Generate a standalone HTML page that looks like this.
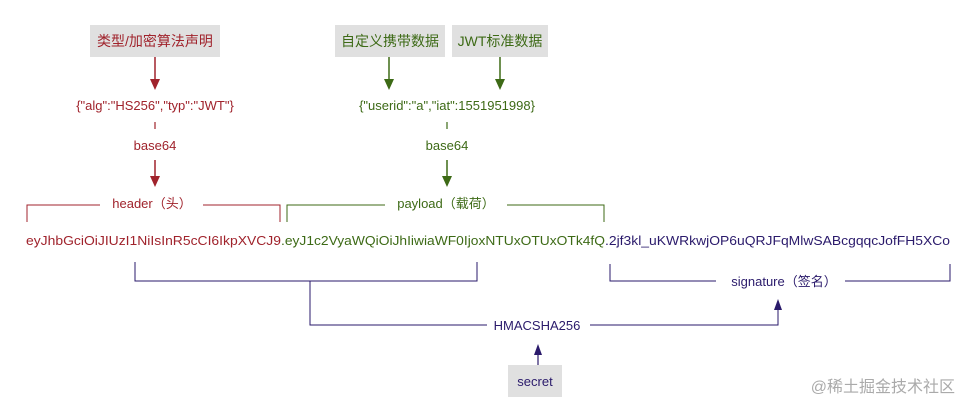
<!DOCTYPE html>
<html><head><meta charset="utf-8"><style>
html,body{margin:0;padding:0;background:#fff;}
svg{display:block;font-family:"Liberation Sans","Noto Sans CJK SC",sans-serif;}
</style></head><body>
<svg width="968" height="414" viewBox="0 0 968 414">
<defs>
<marker id="ar" markerWidth="8" markerHeight="10" refX="4" refY="9" orient="auto-start-reverse" markerUnits="userSpaceOnUse"><path d="M0,0 L8,0 L4,10 z" fill="#a0232c"/></marker>
</defs>
<!-- header column (red) -->
<rect x="90" y="25" width="130" height="32" fill="#e0e0e0"/>
<text x="155" y="46" fill="#a0232c" font-size="14" text-anchor="middle">类型/加密算法声明</text>
<line x1="155" y1="57" x2="155" y2="80" stroke="#a0232c" stroke-width="1.5"/>
<path d="M150,79 L160,79 L155,90 z" fill="#a0232c"/>
<text x="155" y="110" fill="#a0232c" font-size="13" text-anchor="middle">{"alg":"HS256","typ":"JWT"}</text>
<line x1="155" y1="122" x2="155" y2="129" stroke="#a0232c" stroke-width="1.2"/>
<text x="155" y="150" fill="#a0232c" font-size="13" text-anchor="middle">base64</text>
<line x1="155" y1="160" x2="155" y2="178" stroke="#a0232c" stroke-width="1.5"/>
<path d="M150,176 L160,176 L155,187 z" fill="#a0232c"/>
<polyline points="27,222 27,205 100,205" fill="none" stroke="#a0232c" stroke-width="1"/>
<polyline points="203,205 280,205 280,222" fill="none" stroke="#a0232c" stroke-width="1"/>
<text x="152" y="208" fill="#a0232c" font-size="13" text-anchor="middle">header（头）</text>

<!-- payload column (green) -->
<rect x="335" y="25" width="110" height="32" fill="#e0e0e0"/>
<text x="390" y="46" fill="#3d6a16" font-size="14" text-anchor="middle">自定义携带数据</text>
<rect x="452" y="25" width="96" height="32" fill="#e0e0e0"/>
<text x="500" y="46" fill="#3d6a16" font-size="14" text-anchor="middle">JWT标准数据</text>
<line x1="389" y1="57" x2="389" y2="80" stroke="#3d6a16" stroke-width="1.5"/>
<path d="M384,79 L394,79 L389,90 z" fill="#3d6a16"/>
<line x1="500" y1="57" x2="500" y2="80" stroke="#3d6a16" stroke-width="1.5"/>
<path d="M495,79 L505,79 L500,90 z" fill="#3d6a16"/>
<text x="447" y="110" fill="#3d6a16" font-size="13" text-anchor="middle">{"userid":"a","iat":1551951998}</text>
<line x1="447" y1="122" x2="447" y2="129" stroke="#3d6a16" stroke-width="1.2"/>
<text x="447" y="150" fill="#3d6a16" font-size="13" text-anchor="middle">base64</text>
<line x1="447" y1="160" x2="447" y2="178" stroke="#3d6a16" stroke-width="1.5"/>
<path d="M442,176 L452,176 L447,187 z" fill="#3d6a16"/>
<polyline points="287,222 287,205 385,205" fill="none" stroke="#3d6a16" stroke-width="1"/>
<polyline points="507,205 604,205 604,222" fill="none" stroke="#3d6a16" stroke-width="1"/>
<text x="446" y="208" fill="#3d6a16" font-size="13" text-anchor="middle">payload（载荷）</text>

<!-- token -->
<text x="26" y="245" fill="#a0232c" font-size="13" textLength="255" lengthAdjust="spacingAndGlyphs">eyJhbGciOiJIUzI1NiIsInR5cCI6IkpXVCJ9</text>
<text x="281" y="245" fill="#3d6a16" font-size="13" textLength="324" lengthAdjust="spacingAndGlyphs">.eyJ1c2VyaWQiOiJhIiwiaWF0IjoxNTUxOTUxOTk4fQ</text>
<text x="605" y="245" fill="#2a1a6b" font-size="13" textLength="345" lengthAdjust="spacingAndGlyphs">.2jf3kl_uKWRkwjOP6uQRJFqMlwSABcgqqcJofFH5XCo</text>

<!-- signature (navy) -->
<polyline points="135,262 135,281 477,281 477,262" fill="none" stroke="#2a1a6b" stroke-width="1"/>
<polyline points="310,281 310,325 487,325" fill="none" stroke="#2a1a6b" stroke-width="1"/>
<text x="537" y="330" fill="#2a1a6b" font-size="13" text-anchor="middle">HMACSHA256</text>
<polyline points="590,325 778,325 778,308" fill="none" stroke="#2a1a6b" stroke-width="1"/>
<path d="M774,310 L782,310 L778,299 z" fill="#2a1a6b"/>
<polyline points="610,264 610,281 716,281" fill="none" stroke="#2a1a6b" stroke-width="1"/>
<polyline points="845,281 950,281 950,264" fill="none" stroke="#2a1a6b" stroke-width="1"/>
<text x="784" y="286" fill="#2a1a6b" font-size="13" text-anchor="middle">signature（签名）</text>
<rect x="508" y="365" width="54" height="32" fill="#e0e0e0"/>
<text x="535" y="386" fill="#2a1a6b" font-size="13" text-anchor="middle">secret</text>
<line x1="538" y1="365" x2="538" y2="353" stroke="#2a1a6b" stroke-width="1.2"/>
<path d="M534,355 L542,355 L538,344 z" fill="#2a1a6b"/>

<text x="955" y="392" fill="#aaaaaa" font-size="16" text-anchor="end">@稀土掘金技术社区</text>
</svg>
</body></html>
